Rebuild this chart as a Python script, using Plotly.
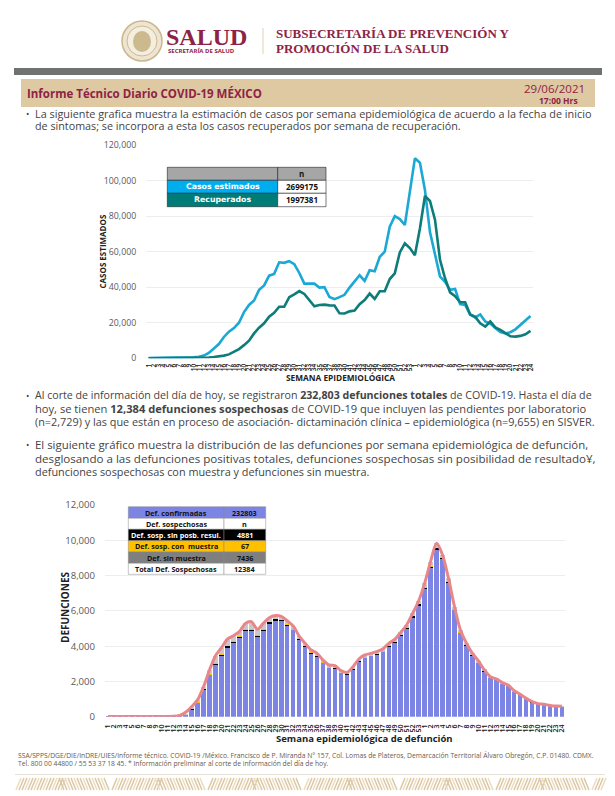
import plotly.graph_objects as go

W, H = 615, 796
weeks = [str(i) for i in range(1, 54)] + [str(i) for i in range(1, 25)]

casos_estimados = [100,100,100,100,100,100,100,150,250,500,800,1500,3000,5500,8000,12000,15000,17000,20000,26000,
    30000,32500,38500,41000,46500,47500,54000,53700,54700,53000,48000,42000,42000,42000,39800,40000,34500,33300,34400,35700,
    39800,43000,46700,43500,49500,49000,57000,60000,74000,80000,78300,75000,93800,112500,110000,94700,71000,58000,46000,43000,
    38500,39000,30500,30000,24500,23000,24700,20700,19500,17000,14700,14000,14700,16300,18800,21300,23800]
recuperados = [0,0,0,0,0,0,0,0,0,50,100,200,400,700,1000,1500,2200,3700,5200,7400,
    9900,14000,17200,19700,23400,25600,29000,29000,34400,36000,37800,36200,32800,29300,30000,30200,29800,29700,25300,25200,
    26400,26800,30400,32800,36400,33400,37700,37700,44600,47800,59600,64700,62000,58000,73000,91300,88500,78000,55400,45000,
    37100,35000,31500,31500,24700,23300,19700,17800,20700,17400,16000,14300,12400,12200,12600,13500,15400]

def_confirmadas = [5,5,5,5,5,5,5,5,5,5,10,20,50,110,430,780,1560,2380,2960,3480,
    3950,4220,4500,4860,4860,4560,4900,5300,5480,5450,5180,4930,4380,3980,3610,3420,3050,2780,2760,2490,
    2400,2700,3130,3350,3450,3530,3680,4000,4230,4600,5020,5650,6320,7270,8450,9480,8950,7620,6050,4770,
    4040,3490,3070,2580,2210,2090,1890,1750,1440,1240,1020,830,720,680,625,585,575]
def_sin_resultado = [0,0,0,0,0,0,0,0,0,0,0,0,0,10,40,30,40,40,60,70,
    70,70,70,90,90,70,70,70,60,50,50,40,40,40,40,40,40,30,30,30,
    30,30,30,30,30,30,40,40,40,50,50,60,70,70,80,100,60,60,50,30,
    30,25,25,20,15,15,10,10,10,10,5,5,5,5,5,5,5]
def_con_muestra = [0]*14 + [1,1,1,1,2,2,2,2,2,2,2,2,2,2,2,2,2,2,1,1,1,1,1,1,1,1,1,1,1,1,1,1,1,1,1,1,1,1,1,1,1,1,1,1,1,1,1,1,1,1,1,1,1,0,0,0,0,0,0,0,0,0,0]
def_sin_muestra = [0,0,0,0,0,0,0,0,0,0,0,0,20,30,100,140,100,230,440,360,
    380,300,250,340,440,320,320,240,190,190,210,170,150,140,130,130,120,120,110,90,
    80,100,110,120,110,130,120,120,110,130,130,150,170,220,260,250,160,160,140,110,
    90,75,65,50,45,35,30,30,20,20,15,15,15,15,10,10,10]
def_total = [5,5,5,5,5,5,5,5,5,5,10,20,70,250,570,950,1700,2650,3460,3910,
    4400,4590,4820,5290,5390,4950,5290,5610,5730,5690,5440,5140,4570,4160,3780,3590,3210,2930,2900,2610,
    2510,2830,3270,3500,3590,3690,3840,4160,4380,4780,5200,5860,6560,7560,8790,9830,9170,7840,6240,4910,
    4160,3590,3160,2650,2270,2140,1930,1790,1470,1270,1040,850,740,700,640,600,590]

tabla1 = [("", "n"), ("Casos estimados", "2699175"), ("Recuperados", "1997381")]
tabla2 = [("Def. confirmadas", "232803"), ("Def. sospechosas", "n"), ("Def. sosp. sin posb. resul.", "4881"),
          ("Def. sosp. con  muestra", "67"), ("Def. sin muestra", "7436"), ("Total Def. Sospechosas", "12384")]

MAROON = "#8E2345"
BODY = "#444444"
FONT = "Open Sans"
C_BLUE, C_TEAL = "#1BA8D5", "#0E7C78"
C_CONF, C_LINE = "#7C85E4", "#E8868A"

px = lambda x: x / W
py = lambda y: 1 - y / H
xs = list(range(len(weeks)))

fig = go.Figure()
fig.add_trace(go.Scatter(x=xs, y=casos_estimados, mode="lines", line=dict(color=C_BLUE, width=2.6), xaxis="x", yaxis="y"))
fig.add_trace(go.Scatter(x=xs, y=recuperados, mode="lines", line=dict(color=C_TEAL, width=2.6), xaxis="x", yaxis="y"))
for vals, col in [(def_confirmadas, C_CONF), (def_sin_resultado, "#000000"), (def_con_muestra, "#FFC000"), (def_sin_muestra, "#C9C9C9")]:
    fig.add_trace(go.Bar(x=xs, y=vals, marker=dict(color=col, line=dict(width=0)), xaxis="x2", yaxis="y2"))
fig.add_trace(go.Scatter(x=xs, y=def_total, mode="lines", line=dict(color=C_LINE, width=3, shape="spline", smoothing=0.8), xaxis="x2", yaxis="y2"))

shapes, ann = [], []

def text(x, y, s, size, color=BODY, anchor="left", bold=False, family=FONT, angle=0):
    ann.append(dict(xref="paper", yref="paper", x=px(x), y=py(y), text=f"<b>{s}</b>" if bold else s, showarrow=False,
                    xanchor=anchor, yanchor="middle", textangle=angle, font=dict(size=size, color=color, family=family),
                    borderpad=0, borderwidth=0))

def rect(x0, y0, x1, y1, fill, line=None, w=0.8, typ="rect"):
    shapes.append(dict(type=typ, xref="paper", yref="paper", x0=px(x0), x1=px(x1), y0=py(y0), y1=py(y1), fillcolor=fill,
                       line=dict(color=line or fill, width=w if line else 0), layer="above"))

# header
rect(122, 21, 162, 61, "#EDE5D2", "#C9B68C", 1.5, "circle")
rect(127, 26, 157, 56, "#F4EEE0", "#CDB98E", 1, "circle")
rect(133, 31, 151, 52, "#CDB98E", None, 0, "circle")
text(166, 37, "SALUD", 24, MAROON, bold=True, family="Liberation Serif")
text(168, 51.5, "SECRETARÍA DE SALUD", 6, MAROON, bold=True)
rect(262.6, 28, 263.4, 54, "#D9C7A0")
text(276, 33.5, "SUBSECRETARÍA DE PREVENCIÓN Y", 13, MAROON, bold=True, family="Liberation Serif")
text(276, 48, "PROMOCIÓN DE LA SALUD", 13, MAROON, bold=True, family="Liberation Serif")
rect(14, 68, 602, 75, "#6F7271")
rect(21, 79, 595, 107, "#DEC9A3")
text(27, 93, "Informe Técnico Diario COVID-19 MÉXICO", 11.5, MAROON, bold=True)
text(585, 88, "29/06/2021", 11.5, MAROON, anchor="right")
text(578, 101, "17:00 Hrs", 8.5, MAROON, anchor="right", bold=True)

# paragraphs
for x, y, s, sz in [
    (35, 113, "La siguiente grafica muestra la estimación de casos por semana epidemiológica de acuerdo a la fecha de inicio", 10.85),
    (35, 126, "de sintomas; se incorpora a esta los casos recuperados por semana de recuperación.", 10.75),
    (35, 395, "Al corte de información del día de hoy, se registraron <b>232,803 defunciones totales</b> de COVID-19. Hasta el día de", 10.65),
    (35, 408, "hoy, se tienen <b>12,384 defunciones sospechosas</b> de COVID-19 que incluyen las pendientes por laboratorio", 11.15),
    (35, 421, "(n=2,729) y las que están en proceso de asociación- dictaminación clínica – epidemiológica (n=9,655) en SISVER.", 10.87),
    (35, 445, "El siguiente gráfico muestra la distribución de las defunciones por semana epidemiológica de defunción,", 11.42),
    (35, 458, "desglosando a las defunciones positivas totales, defunciones sospechosas sin posibilidad de resultado¥,", 11.6),
    (35, 471, "defunciones sospechosas con muestra y defunciones sin muestra.", 10.86),
]:
    text(x, y, s, sz)
for y in (113, 395, 445):
    text(26, y, "•", 9)

# table 1
t1_x = (167.3, 277.7, 326)
t1_y = (167.3, 180.3, 193.3, 206.7)
t1_fill = ("#A6A6A6", "#00AEEF", "#007C78")
for i, (a, b) in enumerate(tabla1):
    rect(t1_x[0], t1_y[i], t1_x[1], t1_y[i + 1], t1_fill[i], "#222222", 0.6)
    rect(t1_x[1], t1_y[i], t1_x[2], t1_y[i + 1], "#A6A6A6" if i == 0 else "#FFFFFF", "#222222", 0.6)
    ym = (t1_y[i] + t1_y[i + 1]) / 2
    if a:
        text((t1_x[0] + t1_x[1]) / 2, ym, a, 7.8, "#FFFFFF", "center", True, family="DejaVu Sans")
    text((t1_x[1] + t1_x[2]) / 2, ym, b, 8, "#111111", "center", True)

# table 2
t2_x = (128.3, 224, 265.7)
t2_y = (506.7, 518.3, 529.3, 540.7, 552, 563.3, 574.3)
t2_fill = (C_CONF, "#FFFFFF", "#000000", "#FFC000", "#7F7F7F", "#FFFFFF")
t2_text = ("#111111", "#111111", "#FFFFFF", "#111111", "#111111", "#111111")
for i, (a, b) in enumerate(tabla2):
    rect(t2_x[0], t2_y[i], t2_x[1], t2_y[i + 1], t2_fill[i], "#8a8a8a", 0.5)
    rect(t2_x[1], t2_y[i], t2_x[2], t2_y[i + 1], t2_fill[i], "#8a8a8a", 0.5)
    ym = (t2_y[i] + t2_y[i + 1]) / 2
    text((t2_x[0] + t2_x[1]) / 2, ym, a, 7.2, t2_text[i], "center", True)
    text((t2_x[1] + t2_x[2]) / 2, ym, b, 7.2, t2_text[i], "center", True)

# axis titles
text(102.5, 252, "CASOS ESTIMADOS", 8, "#222222", "center", True, angle=-90)
text(340, 377, "SEMANA EPIDEMIOLÓGICA", 8.3, "#222222", "center", True)
text(65, 607, "DEFUNCIONES", 10, "#222222", "center", True, angle=-90)
text(364, 738, "Semana epidemiológica de defunción", 9.5, "#222222", "center", True)

# footer
text(18, 755, "SSA/SPPS/DGE/DIE/InDRE/UIES/Informe técnico. COVID-19 /México. Francisco de P. Miranda N° 157, Col. Lomas de Plateros, Demarcación Territorial Álvaro Obregón, C.P. 01480. CDMX.", 6.75, "#6B5A48")
text(18, 763.5, "Tel. 800 00 44800 / 55 53 37 18 45. * Información preliminar al corte de información del día de hoy.", 6.75, "#6B5A48")
rect(15, 774, 605, 775, "#E6E2D8")
for k in range(0, 196):
    x0 = 16 + k * 3
    slant = 5 if (k // 16) % 2 == 0 else -5
    col = "#DCC7A0" if k % 3 else "#EADCC3"
    shapes.append(dict(type="line", xref="paper", yref="paper", x0=px(x0), x1=px(x0 + slant), y0=py(790), y1=py(778),
                       line=dict(color=col, width=1.5)))

axis_common = dict(showline=False, zeroline=False, ticks="outside", tickcolor="white", tickwidth=1, tickmode="array", tickvals=xs,
                   ticktext=weeks, tickangle=-90, range=[-0.5, 76.5], showgrid=False, automargin=False)
yaxis_common = dict(tickformat=",d", gridcolor="#EDEDED", gridwidth=1, zeroline=False, automargin=False, showline=False,
                    ticks="outside", tickcolor="white", ticklen=7)
fig.update_layout(
    template="none",
    width=W, height=H, autosize=False, margin=dict(l=0, r=0, t=0, b=0, pad=0, autoexpand=False), paper_bgcolor="white", plot_bgcolor="white",
    showlegend=False, barmode="stack", bargap=0.24, font=dict(family=FONT), shapes=shapes, annotations=ann,
    xaxis=dict(axis_common, anchor="y", domain=[px(146), px(533)], ticklen=2, tickfont=dict(size=6.5, color="#111111", weight=600)),
    yaxis=dict(yaxis_common, anchor="x", domain=[py(358.3), py(145)], range=[0, 120000], tickvals=[0, 20000, 40000, 60000, 80000, 100000, 120000],
               tickfont=dict(size=8.8, color="#595959")),
    xaxis2=dict(axis_common, anchor="y2", domain=[px(105), px(565)], ticklen=4, tickfont=dict(size=7, color="#111111", weight=600)),
    yaxis2=dict(yaxis_common, anchor="x2", domain=[py(716.7), py(505)], range=[0, 12000], tickvals=[0, 2000, 4000, 6000, 8000, 10000, 12000],
                tickfont=dict(size=9.6, color="#595959")),
)
fig.write_html("out.html", config=dict(displayModeBar=False), post_script="document.body.style.margin='0';document.body.style.overflow='hidden';")
